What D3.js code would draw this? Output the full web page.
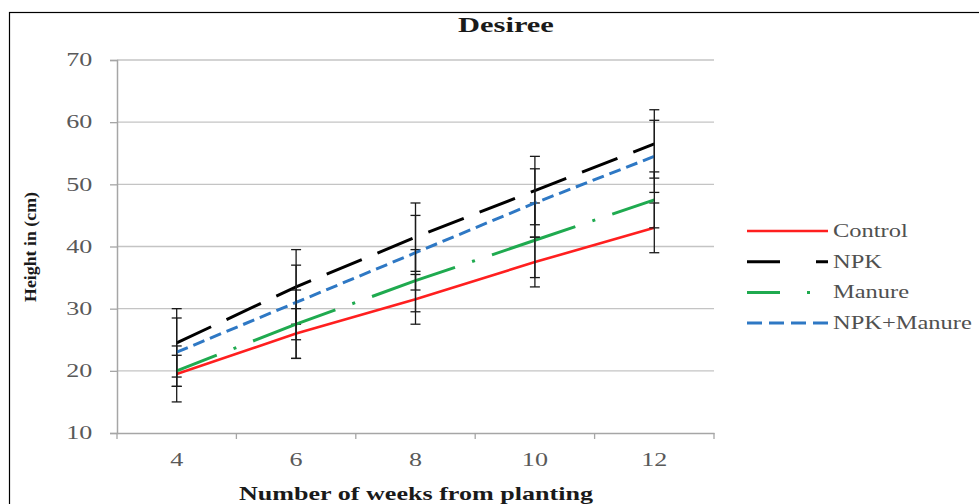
<!DOCTYPE html>
<html>
<head>
<meta charset="utf-8">
<script src="https://cdn.jsdelivr.net/npm/d3@7"></script>
<style>
  body { margin: 0; background: #fff; }
  svg { display: block; font-family: "Liberation Serif", "Times New Roman", serif; }
</style>
</head>
<body>
<div id="chart"></div>
<script>
const weeks = [4, 6, 8, 10, 12];
const seriesNames = ["Control", "NPK", "Manure", "NPK+Manure"];
const control = [19.5, 26, 31.5, 37.5, 43];
const npk = [24.5, 33.5, 41.5, 49, 56.5];
const manure = [20, 27.5, 34.5, 41, 47.5];
const npkManure = [23, 31, 39, 47, 54.5];
const controlErr = [4.5, 4, 4, 4, 4];
const npkErr = [5.5, 6, 5.5, 5.5, 5.5];
const manureErr = [2.5, 5.5, 5, 6, 4.5];
const npkManureErr = [5.5, 6, 6, 5.5, 5.8];
const yTicks = [10, 20, 30, 40, 50, 60, 70];

const width = 979, height = 504;
const plot = { left: 117, right: 714, top: 60, bottom: 433 };
const sx = 1.45; // the source image is stretched sideways, so is its text

const svg = d3.select("#chart").append("svg")
  .attr("width", width)
  .attr("height", height);

// outer frame (cut off at right and bottom like the source)
svg.append("rect")
  .attr("x", 9.5).attr("y", 12.5)
  .attr("width", 1000).attr("height", 600)
  .attr("fill", "none").attr("stroke", "#000").attr("stroke-width", 1.2);

const x = d3.scaleBand().domain(weeks).range([plot.left, plot.right]).paddingInner(0);
const cx = (d) => x(d) + x.bandwidth() / 2;
const y = d3.scaleLinear().domain([10, 70]).range([plot.bottom, plot.top]);

// wide text helper
function label(px, py, txt, size, opts = {}) {
  const t = svg.append("g")
    .attr("transform", `translate(${px},${py}) scale(${sx},1)`)
    .append("text")
    .attr("text-anchor", opts.anchor || "middle")
    .attr("font-size", size + "px")
    .attr("font-weight", opts.bold ? "bold" : "normal")
    .attr("fill", opts.fill || "#1a1a1a")
    .text(txt);
  return t;
}

// gridlines
svg.append("g")
  .selectAll("line")
  .data(yTicks.slice(1))
  .join("line")
  .attr("x1", plot.left).attr("x2", plot.right)
  .attr("y1", (d) => y(d)).attr("y2", (d) => y(d))
  .attr("stroke", "#c4c4c4").attr("stroke-width", 1.3);

// y axis
const yAxis = svg.append("g")
  .attr("transform", `translate(${plot.left},0)`)
  .call(d3.axisLeft(y).tickValues(yTicks).tickSize(7).tickPadding(10));
yAxis.select(".domain").attr("stroke", "#a6a6a6").attr("stroke-width", 1.5);
yAxis.selectAll(".tick line").attr("stroke", "#a6a6a6").attr("stroke-width", 1.3);
yAxis.selectAll("text")
  .attr("fill", "#595959").attr("font-size", "18px")
  .attr("font-family", "Liberation Serif, serif")
  .attr("transform", `scale(${sx},1)`);

// x axis
const xAxis = svg.append("g")
  .attr("transform", `translate(0,${plot.bottom})`)
  .call(d3.axisBottom(x).tickSize(0).tickPadding(20));
xAxis.select(".domain").attr("stroke", "#a6a6a6").attr("stroke-width", 1.5);
xAxis.selectAll("text")
  .attr("fill", "#595959").attr("font-size", "18px")
  .attr("font-family", "Liberation Serif, serif")
  .attr("transform", `scale(${sx},1)`);
xAxis.append("g")
  .selectAll("line")
  .data(weeks.map((d) => x(d)).concat([x.range()[1]]))
  .join("line")
  .attr("x1", (d) => d).attr("x2", (d) => d)
  .attr("y1", 0).attr("y2", 6)
  .attr("stroke", "#a6a6a6").attr("stroke-width", 1.3);

const series = [
  { name: seriesNames[0], values: control, err: controlErr, color: "#ff1f1f", dash: null, off: 0, legendDash: null, w: 2.6 },
  { name: seriesNames[1], values: npk, err: npkErr, color: "#000000", dash: "38,17", off: 0, legendDash: "33,36,20", w: 3 },
  { name: seriesNames[2], values: manure, err: manureErr, color: "#1faa4f", dash: "88,18,3,18", off: 45, legendDash: "33,27,3,30", w: 3 },
  { name: seriesNames[3], values: npkManure, err: npkManureErr, color: "#2e78c4", dash: "12,6", off: 0, legendDash: "15,7", w: 3 }
];

const line = d3.line().x((d) => cx(d.week)).y((d) => y(d.value));

series.forEach((s) => {
  const pts = weeks.map((w, i) => ({ week: w, value: s.values[i], err: s.err[i] }));

  svg.append("path")
    .datum(pts)
    .attr("d", line)
    .attr("fill", "none")
    .attr("stroke", s.color)
    .attr("stroke-width", s.w)
    .attr("stroke-dasharray", s.dash)
    .attr("stroke-dashoffset", s.off);

  const eb = svg.append("g").attr("stroke", "#1a1a1a").attr("stroke-width", 1.3);
  eb.selectAll(".stem")
    .data(pts)
    .join("line")
    .attr("x1", (d) => cx(d.week)).attr("x2", (d) => cx(d.week))
    .attr("y1", (d) => y(d.value - d.err)).attr("y2", (d) => y(d.value + d.err));
  eb.selectAll(".cap")
    .data(pts.flatMap((d) => [
      { week: d.week, v: d.value - d.err },
      { week: d.week, v: d.value + d.err }
    ]))
    .join("line")
    .attr("x1", (d) => cx(d.week) - 5).attr("x2", (d) => cx(d.week) + 5)
    .attr("y1", (d) => y(d.v)).attr("y2", (d) => y(d.v));
});

// title
label(506, 32, "Desiree", 21, { bold: true });

// axis titles
label(416, 500, "Number of weeks from planting", 18, { bold: true });

svg.append("text")
  .attr("transform", `translate(36,247) rotate(-90)`)
  .attr("text-anchor", "middle")
  .attr("font-size", "16px").attr("font-weight", "bold")
  .attr("fill", "#1a1a1a")
  .attr("textLength", 110).attr("lengthAdjust", "spacingAndGlyphs")
  .text("Height in (cm)");

// legend
const legend = svg.append("g").attr("transform", "translate(747,231)");
const rows = legend.selectAll("g")
  .data(series)
  .join("g")
  .attr("transform", (d, i) => `translate(0,${i * 30.7})`);
rows.append("line")
  .attr("x1", 0).attr("x2", 81)
  .attr("stroke", (d) => d.color)
  .attr("stroke-width", (d) => d.w)
  .attr("stroke-dasharray", (d) => d.legendDash);
rows.append("g")
  .attr("transform", "translate(86,6) scale(1.36,1)")
  .append("text")
  .attr("font-size", "18px")
  .attr("fill", "#505050")
  .text((d) => d.name);
</script>
</body>
</html>
